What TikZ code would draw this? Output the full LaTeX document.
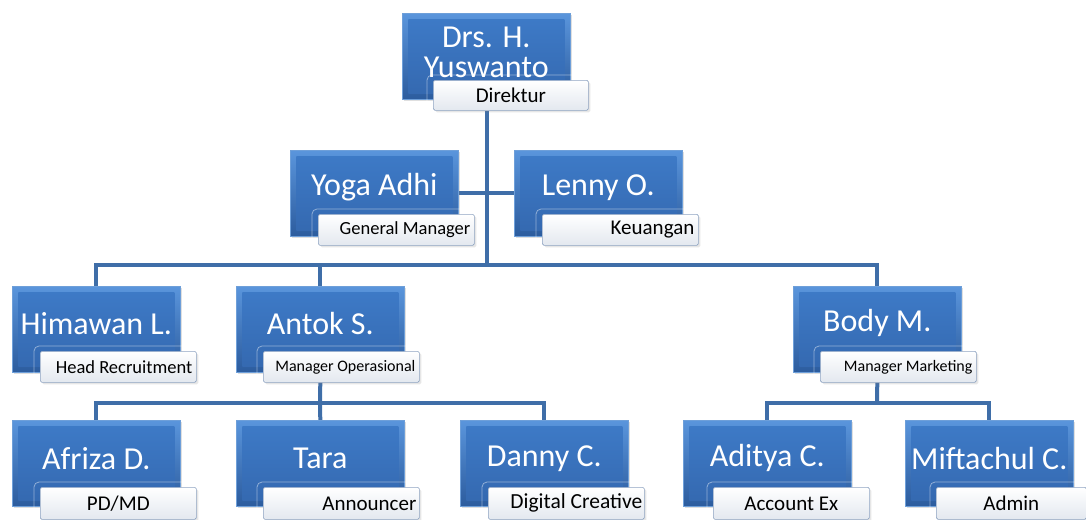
\documentclass[tikz,border=0pt]{standalone}
\usepackage{fontspec}
\setmainfont{Carlito}
\usetikzlibrary{shadows,backgrounds}
\definecolor{boxtop}{HTML}{5A95DC}
\definecolor{boxbot}{HTML}{2C5C9E}
\definecolor{innertop}{HTML}{3E7BC8}
\definecolor{innerbot}{HTML}{3468AF}
\definecolor{boxedge}{HTML}{6E9FD9}
\definecolor{labbot}{HTML}{E3E8EF}
\definecolor{labedge}{HTML}{8FA4C2}
\definecolor{conncol}{HTML}{3F6EA8}
\begin{document}
\begin{tikzpicture}[x=1pt,y=-1pt,
  pbox/.style={rectangle, anchor=north west, minimum width=168pt, minimum height=86pt,
    inner sep=0pt, top color=boxtop, bottom color=boxbot, draw=boxedge, line width=0.6pt,
    drop shadow={shadow xshift=2pt, shadow yshift=-2pt, opacity=0.25},
    path picture={\shade[top color=innertop, bottom color=innerbot]
      ([shift={(6pt,-6pt)}]path picture bounding box.north west) rectangle
      ([shift={(-6pt,6pt)}]path picture bounding box.south east);}},
  ptext/.style={text=white, font=\fontsize{32}{30}\selectfont, inner sep=0pt, align=flush center},
  lab/.style={rectangle, anchor=north west, minimum height=31pt, inner xsep=4pt, inner ysep=0pt,
    text width=148pt, top color=white, bottom color=labbot, draw=labedge, line width=0.7pt,
    rounded corners=1.5pt, font=\fontsize{21}{21}\selectfont,
    drop shadow={shadow xshift=2pt, shadow yshift=-2pt, opacity=0.2}},
  labm/.style={lab, font=\fontsize{18.5}{18}\selectfont},
  labs/.style={lab, font=\fontsize{16}{16}\selectfont},
  ghost/.style={draw=white, opacity=0.45, line width=0.8pt, rounded corners=5pt},
  conn/.style={draw=conncol, line width=4pt}
]
\useasboundingbox (0,0) rectangle (1086,519);

% level 0
\node[pbox] (dir) at (402,13) {};
\node[ptext] (dirt) at ([yshift=4pt]dir.center) {Drs. H.\\Yuswanto};
\node[lab, minimum height=30pt, text width=147pt, align=flush center] (dirl) at (433,80) {Direktur};

% level 1
\node[pbox] (yoga) at (290,150) {};
\node[ptext] (yogat) at ([yshift=6pt]yoga.center) {Yoga Adhi};
\node[labm, align=flush right] (yogal) at (318,214) {General Manager};
\node[pbox] (lenny) at (514,150) {};
\node[ptext] (lennyt) at ([yshift=6pt]lenny.center) {Lenny O.};
\node[lab, align=flush right] (lennyl) at (542,214) {Keuangan};

% level 2
\node[pbox] (him) at (12,286) {};
\node[ptext] (himt) at ([yshift=6pt]him.center) {Himawan L.};
\node[labm, align=flush right] (himl) at (40,351) {Head Recruitment};
\node[pbox] (antok) at (236,286) {};
\node[ptext] (antokt) at ([yshift=6pt]antok.center) {Antok S.};
\node[labs, align=flush right] (antokl) at (263,351) {Manager Operasional};
\node[pbox] (body) at (793,286) {};
\node[ptext] (bodyt) at ([yshift=6pt]body.center) {Body M.};
\node[labs, align=flush right] (bodyl) at (820,351) {Manager Marketing};

% level 3
\node[pbox] (afr) at (12,420) {};
\node[ptext] (afrt) at ([yshift=5pt]afr.center) {Afriza D.};
\node[lab, minimum height=32pt, align=flush center] (afrl) at (40,487) {PD/MD};
\node[pbox] (tara) at (236,420) {};
\node[ptext] (tarat) at ([yshift=5pt]tara.center) {Tara};
\node[lab, minimum height=32pt, inner xsep=3pt, text width=150pt, align=flush right] (taral) at (263,487) {Announcer};
\node[pbox] (danny) at (460,420) {};
\node[ptext] (dannyt) at ([yshift=5pt]danny.center) {Danny C.};
\node[lab, minimum height=32pt, inner xsep=2pt, text width=152pt, align=flush right, font=\fontsize{21.5}{21}\selectfont] (dannyl) at (488,487) {Digital Creative};
\node[pbox] (adit) at (683,420) {};
\node[ptext] (aditt) at ([yshift=5pt]adit.center) {Aditya C.};
\node[lab, minimum height=32pt, align=flush center] (aditl) at (713,487) {Account Ex};
\node[pbox] (mift) at (905,420) {};
\node[ptext] (miftt) at ([yshift=5pt]mift.center) {Miftachul C.};
\node[lab, minimum height=32pt, text width=142pt, align=flush center] (miftl) at (936,487) {Admin};

% ghost outlines behind labels
\foreach \n in {dirl,yogal,lennyl,himl,antokl,bodyl,afrl,taral,dannyl,aditl,miftl}{
  \draw[ghost] ([xshift=-6pt]\n.south west) -- ([shift={(-6pt,5pt)}]\n.north west) -- ([yshift=5pt]\n.north east);
}

\begin{pgfonlayer}{background}
\coordinate (j1) at (487,265);
\coordinate (j2) at (320,403);
\coordinate (j3) at (877,403);
\draw[conn] (j1 |- dirl.south) -- (j1);
\draw[conn] (yoga.east) -- (lenny.west);
\draw[conn] (him.north) |- (j1) -| (body.north);
\draw[conn] (antok.north) -- (antok.north |- j1);
\draw[conn] (antok.center |- antokl.south) -- (j2);
\draw[conn] (afr.north) |- (j2) -| (danny.north);
\draw[conn] (tara.north) -- (j2);
\draw[conn] (body.center |- bodyl.south) -- (j3);
\draw[conn] (adit.north) |- (j3) -| (mift.north);
\end{pgfonlayer}
\end{tikzpicture}
\end{document}
